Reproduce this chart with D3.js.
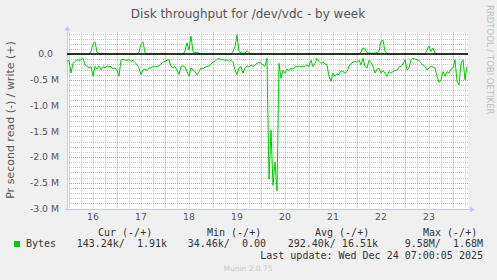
<!DOCTYPE html>
<html>
<head>
<meta charset="utf-8">
<script src="https://cdn.jsdelivr.net/npm/d3@7"></script>
<style>
  body { margin: 0; background: #f0f0f0; }
  svg { display: block; }
  .sans { font-family: "DejaVu Sans", sans-serif; }
  .mono { font-family: "DejaVu Sans Mono", monospace; }
</style>
</head>
<body>
<svg width="497" height="280"></svg>
<script>
// hourly samples starting Dec 15 23:00, values in kB/s
var readK = [
  140, 120, 370, 180, 140, 110, 120, 110, 80, 210,
  240, 270, 240, 430, 240, 290, 230, 310, 240, 270,
  230, 250, 240, 290, 270, 310, 430, 110, 100, 110,
  120, 110, 140, 120, 160, 210, 270, 400, 310, 290,
  320, 270, 270, 240, 250, 240, 230, 190, 160, 140,
  120, 110, 240, 270, 240, 310, 400, 240, 230, 250,
  340, 430, 270, 310, 340, 400, 340, 270, 290, 250,
  240, 230, 190, 160, 140, 100, 90, 100, 110, 120,
  110, 140, 120, 160, 310, 400, 270, 240, 370, 270,
  230, 250, 210, 240, 210, 180, 160, 180, 210, 240,
  80, 2430, 1480, 2550, 2100, 2660, 180, 470, 310, 370,
  290, 320, 270, 290, 240, 250, 230, 250, 230, 240,
  210, 240, 120, 240, 180, 80, 140, 180, 160, 190,
  210, 430, 530, 370, 430, 380, 400, 320, 340, 370,
  340, 240, 180, 160, 140, 160, 120, 210, 80, 240,
  270, 120, 160, 240, 370, 290, 270, 370, 320, 370,
  430, 340, 370, 340, 320, 310, 250, 240, 190, 110,
  310, 270, 110, 80, 100, 110, 120, 180, 210, 240,
  310, 270, 240, 250, 270, 430, 550, 500, 340, 430,
  340, 370, 290, 270, 110, 530, 600, 180, 110, 500,
  240
];
var writeK = [
  0, 0, 0, 0, 0, 0, 0, 0, 0, 0,
  0, 0, 50, 200, 240, 40, 10, 0, 20, 0,
  0, 0, 0, 0, 0, 0, 0, 0, 0, 0,
  0, 0, 0, 0, 0, 0, 40, 200, 240, 30,
  0, 0, 20, 0, 0, 0, 0, 20, 0, 0,
  0, 0, 0, 0, 0, 0, 0, 0, 0, 60,
  220, 80, 350, 50, 30, 30, 20, 0, 0, 0,
  0, 0, 0, 0, 0, 0, 0, 0, 0, 0,
  0, 0, 0, 50, 150, 370, 50, 20, 20, 20,
  70, 30, 0, 0, 0, 0, 0, 0, 0, 0,
  0, 0, 0, 0, 0, 0, 0, 0, 0, 0,
  0, 0, 0, 0, 0, 0, 0, 0, 0, 0,
  0, 0, 0, 0, 0, 0, 0, 0, 0, 0,
  0, 0, 0, 0, 0, 0, 0, 0, 0, 0,
  0, 0, 0, 0, 0, 0, 0, 40, 120, 100,
  30, 20, 20, 20, 20, 30, 50, 250, 270, 50,
  20, 0, 0, 0, 0, 0, 0, 0, 0, 0,
  0, 0, 0, 0, 0, 0, 0, 0, 0, 0,
  80, 160, 50, 120, 20, 0, 0, 0, 0, 0,
  0, 0, 0, 0, 0, 0, 0, 0, 0, 0,
  0
];
var yTicks = [0, -500, -1000, -1500, -2000, -2500, -3000];
var yTickLabels = ["0.0", "-0.5 M", "-1.0 M", "-1.5 M", "-2.0 M", "-2.5 M", "-3.0 M"];
var legendHeads = ["Cur (-/+)", "Min (-/+)", "Avg (-/+)", "Max (-/+)"];
var legendVals = ["143.24k/  1.91k", "34.46k/  0.00", "292.40k/ 16.51k", "9.58M/  1.68M"];

var svg = d3.select("svg"),
    plotL = 67, plotR = 468, plotT = 32.5, plotB = 208.5;

var start = new Date(2025, 11, 15, 23, 0),
    end = new Date(2025, 11, 24, 7, 30);
var times = d3.timeHour.range(start, new Date(2025, 11, 24, 7, 1));

var x = d3.scaleTime().domain([start, end]).range([plotL, plotR]);
var y = d3.scaleLinear().domain([-3000, 420]).range([plotB, plotT]);

function px(v) { return Math.round(v) + 0.5; }

svg.append("rect")
    .attr("x", plotL).attr("y", plotT)
    .attr("width", plotR - plotL).attr("height", plotB - plotT)
    .attr("fill", "#ffffff");

var grid = svg.append("g");

// horizontal grid every 100k, red every 500k
d3.range(-3000, 401, 100).forEach(function(v) {
  var major = v % 500 == 0;
  grid.append("line")
      .attr("x1", plotL).attr("x2", plotR)
      .attr("y1", px(y(v))).attr("y2", px(y(v)))
      .attr("stroke", major ? "#f08a8a" : "#c4c4c4")
      .attr("stroke-dasharray", "1,1");
});

// vertical grid every 6h, red at midnight
d3.timeHour.every(6).range(start, end).forEach(function(d) {
  var major = d.getHours() == 0;
  grid.append("line")
      .attr("x1", px(x(d))).attr("x2", px(x(d)))
      .attr("y1", plotT).attr("y2", plotB)
      .attr("stroke", major ? "#f08a8a" : "#c4c4c4")
      .attr("stroke-dasharray", "1,1");
});

// axes
svg.append("line")
    .attr("x1", plotL - 2).attr("x2", plotR + 3)
    .attr("y1", px(plotB)).attr("y2", px(plotB))
    .attr("stroke", "#c8c8f0");
svg.append("path")
    .attr("d", "M" + (plotR + 2) + "," + (px(plotB) - 3) + "L" + (plotR + 7) + "," + px(plotB) + "L" + (plotR + 2) + "," + (px(plotB) + 3) + "Z")
    .attr("fill", "#c8c8f0");
svg.append("line")
    .attr("x1", px(plotL)).attr("x2", px(plotL))
    .attr("y1", plotB + 2).attr("y2", plotT - 3)
    .attr("stroke", "#c8c8f0");
svg.append("path")
    .attr("d", "M" + (px(plotL) - 3) + "," + (plotT - 2) + "L" + px(plotL) + "," + (plotT - 7) + "L" + (px(plotL) + 3) + "," + (plotT - 2) + "Z")
    .attr("fill", "#c8c8f0");

var data = times.map(function(d, i) { return {t: d, r: readK[i], w: writeK[i]}; });

var readLine = d3.line()
    .x(function(d) { return x(d.t); })
    .y(function(d) { return y(-d.r); });
var writeLine = d3.line()
    .x(function(d) { return x(d.t); })
    .y(function(d) { return y(d.w); });

svg.append("path")
    .datum(data)
    .attr("d", writeLine)
    .attr("fill", "none")
    .attr("stroke", "#00cc00");

svg.append("line")
    .attr("x1", plotL).attr("x2", plotR)
    .attr("y1", y(0)).attr("y2", y(0))
    .attr("stroke", "#000")
    .attr("stroke-width", 1.5);

svg.append("path")
    .datum(data)
    .attr("d", readLine)
    .attr("fill", "none")
    .attr("stroke", "#00cc00");

// y tick labels
svg.append("g").selectAll("text")
  .data(yTicks)
  .enter().append("text")
    .attr("class", "sans")
    .attr("x", function(d) { return d == 0 ? 53 : 59; })
    .attr("y", function(d) { return y(d); })
    .attr("dy", "0.35em")
    .attr("text-anchor", "end")
    .attr("font-size", "9.3px")
    .attr("fill", "#555")
    .text(function(d, i) { return yTickLabels[i]; });

// x day labels at noon
svg.append("g").selectAll("text")
  .data(d3.timeDay.range(new Date(2025, 11, 16), new Date(2025, 11, 24)))
  .enter().append("text")
    .attr("class", "sans")
    .attr("x", function(d) { return x(d3.timeHour.offset(d, 12)); })
    .attr("y", 220)
    .attr("text-anchor", "middle")
    .attr("font-size", "9.3px")
    .attr("fill", "#555")
    .text(function(d) { return d.getDate(); });

svg.append("text")
    .attr("class", "sans")
    .attr("x", 248).attr("y", 18)
    .attr("text-anchor", "middle")
    .attr("font-size", "12px")
    .attr("fill", "#555")
    .text("Disk throughput for /dev/vdc - by week");

svg.append("text")
    .attr("class", "sans")
    .attr("transform", "translate(14,120) rotate(-90)")
    .attr("text-anchor", "middle")
    .attr("font-size", "11px")
    .attr("fill", "#555")
    .text("Pr second read (-) / write (+)");

svg.append("text")
    .attr("class", "sans")
    .attr("transform", "translate(487,5) rotate(90)")
    .attr("text-anchor", "start")
    .attr("font-size", "8.5px")
    .attr("fill", "#c0c0c0")
    .text("RRDTOOL / TOBI OETIKER");

// legend
svg.append("rect")
    .attr("x", 14).attr("y", 241)
    .attr("width", 6).attr("height", 6)
    .attr("fill", "#00cc00");
svg.append("text")
    .attr("class", "mono")
    .attr("x", 26).attr("y", 247)
    .attr("font-size", "10px")
    .attr("fill", "#333")
    .text("Bytes");

var headX = [98, 207, 315, 423],
    valEnd = [167, 266, 378, 483];

svg.append("g").selectAll("text")
  .data(legendHeads)
  .enter().append("text")
    .attr("class", "mono")
    .attr("x", function(d, i) { return headX[i]; })
    .attr("y", 236)
    .attr("font-size", "10px")
    .attr("fill", "#333")
    .text(function(d) { return d; });

svg.append("g").selectAll("text")
  .data(legendVals)
  .enter().append("text")
    .attr("class", "mono")
    .attr("x", function(d, i) { return valEnd[i]; })
    .attr("y", 247)
    .attr("text-anchor", "end")
    .attr("font-size", "10px")
    .attr("fill", "#333")
    .style("white-space", "pre")
    .text(function(d) { return d; });

svg.append("text")
    .attr("class", "mono")
    .attr("x", 483).attr("y", 259)
    .attr("text-anchor", "end")
    .attr("font-size", "10px")
    .attr("fill", "#333")
    .text("Last update: Wed Dec 24 07:00:05 2025");

svg.append("text")
    .attr("class", "sans")
    .attr("x", 248).attr("y", 271)
    .attr("text-anchor", "middle")
    .attr("font-size", "7.5px")
    .attr("fill", "#c8c8c8")
    .text("Munin 2.0.75");
</script>
</body>
</html>
